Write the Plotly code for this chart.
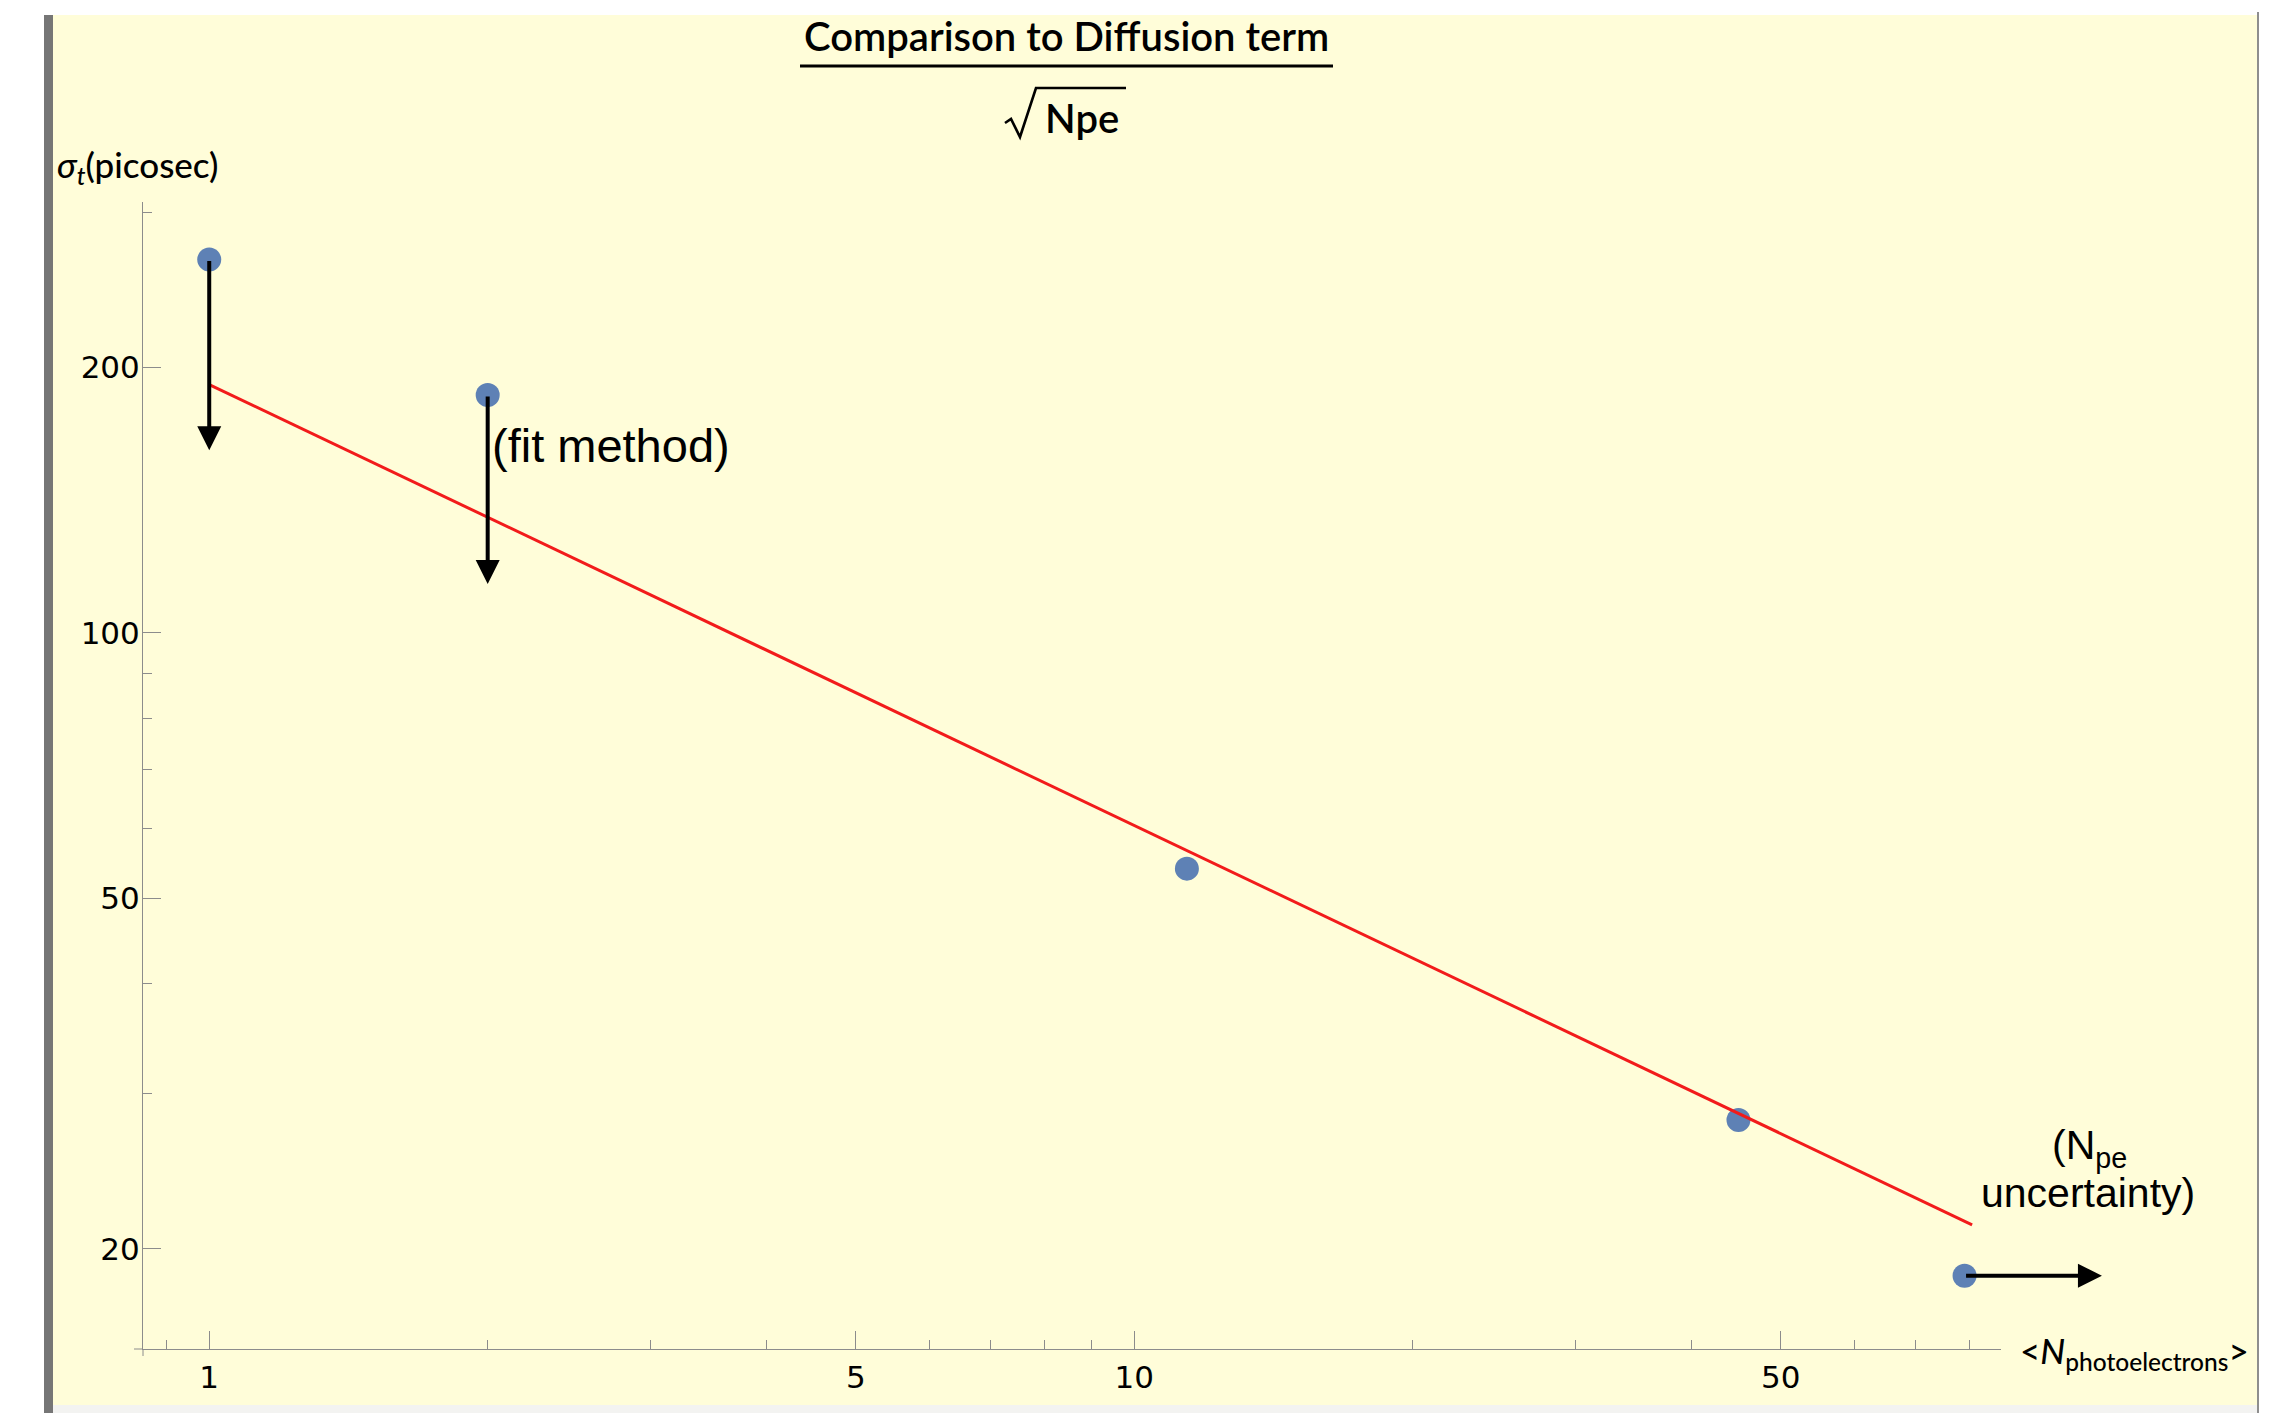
import numpy as np
import plotly.graph_objects as go

# ---------------- data ----------------
N_PE = [1.0, 2.0, 11.4, 45.0, 79.0]          # <N photoelectrons>
SIGMA_T = [265.0, 186.0, 54.0, 28.0, 18.65]  # sigma_t (picosec)
FIT_N = [1.0, 80.5]                           # diffusion-term fit ~ A/sqrt(Npe)
FIT_SIGMA = [191.2, 21.3]
DOWN_ARROW_POINTS = [0, 1]                    # points with downward arrows
DOWN_ARROW_TO = [161.0, 113.6]                # sigma values where arrows end
RIGHT_ARROW_POINT = 4
RIGHT_ARROW_TO = 111.2                        # Npe value where arrow ends

X_TICKS = [1, 5, 10, 50]
X_TICK_TEXT = ["1", "5", "10", "50"]
X_MINOR = [0.9, 2, 3, 4, 6, 7, 8, 9, 20, 30, 40, 60, 70, 80]
Y_TICKS = [20, 50, 100, 200]
Y_TICK_TEXT = ["20", "50", "100", "200"]
Y_MINOR = [30, 40, 60, 70, 80, 90, 300]
X_RANGE = [0.848, 86.5]
Y_RANGE = [15.4, 308.0]

TITLE = "Comparison to Diffusion term"
DENOM = "Npe"
Y_TITLE = "<i>σ</i><sub><i>t</i></sub>(picosec)"
X_TITLE = "&lt;<i>N</i><sub>photoelectrons</sub>&gt;"
NOTE_FIT = "(fit method)"
NOTE_NPE_1 = "(N<sub>pe</sub>"
NOTE_NPE_2 = "uncertainty)"

# ---------------- geometry ----------------
W, H = 2289, 1413
L, R, T, B = 143, 2001, 202, 1349   # plot area in pixels


def px(x):
    return (x - L) / (R - L)


def py(y):
    return (B - y) / (B - T)


YELLOW = "#FFFDD9"
AXIS_GRAY = "#8C8C8C"
BLUE = "#5E81B5"
RED = "#F21B1B"

fig = go.Figure()

fig.add_trace(go.Scatter(
    x=N_PE, y=SIGMA_T, mode="markers",
    marker=dict(size=24, color=BLUE, line=dict(width=0)),
    showlegend=False, hoverinfo="x+y"))

fig.add_trace(go.Scatter(
    x=FIT_N, y=FIT_SIGMA, mode="lines",
    line=dict(color=RED, width=3),
    showlegend=False, hoverinfo="skip"))

annotations = []
# arrows
for i, target in zip(DOWN_ARROW_POINTS, DOWN_ARROW_TO):
    annotations.append(dict(
        x=np.log10(N_PE[i]), y=np.log10(target),
        ax=np.log10(N_PE[i]), ay=np.log10(SIGMA_T[i]),
        xref="x", yref="y", axref="x", ayref="y",
        text="", showarrow=True, arrowhead=2, arrowsize=1.2,
        arrowwidth=4, arrowcolor="black", standoff=0, startstandoff=0))
annotations.append(dict(
    x=np.log10(RIGHT_ARROW_TO), y=np.log10(SIGMA_T[RIGHT_ARROW_POINT]),
    ax=np.log10(N_PE[RIGHT_ARROW_POINT]), ay=np.log10(SIGMA_T[RIGHT_ARROW_POINT]),
    xref="x", yref="y", axref="x", ayref="y",
    text="", showarrow=True, arrowhead=2, arrowsize=1.2,
    arrowwidth=4, arrowcolor="black", standoff=0, startstandoff=0))

# texts
annotations += [
    dict(text=TITLE, x=px(1066), y=py(36), xref="paper", yref="paper",
         xanchor="center", yanchor="middle", showarrow=False,
         font=dict(family="Lato", size=40, color="black", weight=600)),
    dict(text=DENOM, x=px(1082), y=py(118), xref="paper", yref="paper",
         xanchor="center", yanchor="middle", showarrow=False,
         font=dict(family="Lato", size=40, color="black", weight=600)),
    dict(text=Y_TITLE, x=px(55), y=py(166), xref="paper", yref="paper",
         xanchor="left", yanchor="middle", showarrow=False,
         font=dict(family="Lato", size=35, color="black", weight=500)),
    dict(text=X_TITLE, x=px(2018), y=py(1352), xref="paper", yref="paper",
         xanchor="left", yanchor="middle", showarrow=False,
         font=dict(family="Lato", size=35, color="black", weight=500)),
    dict(text=NOTE_FIT, x=px(490), y=py(446), xref="paper", yref="paper",
         xanchor="left", yanchor="middle", showarrow=False,
         font=dict(family="Liberation Sans", size=47, color="black")),
    dict(text=NOTE_NPE_1, x=px(2089), y=py(1148), xref="paper", yref="paper",
         xanchor="center", yanchor="middle", showarrow=False,
         font=dict(family="Liberation Sans", size=41, color="black")),
    dict(text=NOTE_NPE_2, x=px(2088), y=py(1193), xref="paper", yref="paper",
         xanchor="center", yanchor="middle", showarrow=False,
         font=dict(family="Liberation Sans", size=41, color="black")),
]

# radical sign path (pixel points -> paper)
rad_pts = [(1005, 123), (1011, 119), (1020, 137), (1036, 88), (1126, 88)]
rad_path = "M " + " L ".join(f"{px(a):.5f},{py(b):.5f}" for a, b in rad_pts)

shapes = [
    # yellow slide background
    dict(type="rect", xref="paper", yref="paper", x0=px(53), x1=px(2258),
         y0=py(1405), y1=py(15), fillcolor=YELLOW, line=dict(width=0), layer="below"),
    # bottom light strip
    dict(type="rect", xref="paper", yref="paper", x0=px(53), x1=px(2258),
         y0=py(1413), y1=py(1405), fillcolor="#F3F3F1", line=dict(width=0), layer="below"),
    # left gray bar
    dict(type="rect", xref="paper", yref="paper", x0=px(44), x1=px(53),
         y0=py(1413), y1=py(15), fillcolor="#767676", line=dict(width=0), layer="below"),
    # right thin edge
    dict(type="line", xref="paper", yref="paper", x0=px(2258), x1=px(2258),
         y0=py(1413), y1=py(12), line=dict(color="#8E8E8E", width=2), layer="below"),
    # title underline (fraction bar)
    dict(type="line", xref="paper", yref="paper", x0=px(800), x1=px(1333),
         y0=py(66), y1=py(66), line=dict(color="black", width=3)),
    # radical
    dict(type="path", xref="paper", yref="paper", path=rad_path,
         line=dict(color="black", width=2.6)),
    # axis overhangs (crossing axes)
    dict(type="line", xref="paper", yref="paper", x0=px(134), x1=px(143),
         y0=py(B), y1=py(B), line=dict(color=AXIS_GRAY, width=1)),
    dict(type="line", xref="paper", yref="paper", x0=px(L), x1=px(L),
         y0=py(B), y1=py(1356), line=dict(color=AXIS_GRAY, width=1)),
]

tick_font = dict(family="DejaVu Sans", size=31, color="black")

fig.update_layout(
    width=W, height=H,
    margin=dict(l=L, r=W - R, t=T, b=H - B, pad=0, autoexpand=False),
    paper_bgcolor="white", plot_bgcolor="rgba(0,0,0,0)",
    showlegend=False,
    annotations=annotations, shapes=shapes,
    xaxis=dict(type="log", range=[np.log10(X_RANGE[0]), np.log10(X_RANGE[1])],
               automargin=False,
               showgrid=False, zeroline=False, showline=True,
               linecolor=AXIS_GRAY, linewidth=1,
               tickmode="array", tickvals=X_TICKS, ticktext=X_TICK_TEXT,
               ticks="inside", ticklen=18, tickwidth=1, tickcolor=AXIS_GRAY,
               tickfont=tick_font, ticklabelstandoff=1,
               minor=dict(tickmode="array", tickvals=X_MINOR, ticks="inside",
                          ticklen=9, tickwidth=1, tickcolor=AXIS_GRAY, showgrid=False)),
    yaxis=dict(type="log", range=[np.log10(Y_RANGE[0]), np.log10(Y_RANGE[1])],
               automargin=False,
               showgrid=False, zeroline=False, showline=True,
               linecolor=AXIS_GRAY, linewidth=1,
               tickmode="array", tickvals=Y_TICKS, ticktext=Y_TICK_TEXT,
               ticks="inside", ticklen=18, tickwidth=1, tickcolor=AXIS_GRAY,
               tickfont=tick_font, ticklabelstandoff=-4,
               minor=dict(tickmode="array", tickvals=Y_MINOR, ticks="inside",
                          ticklen=9, tickwidth=1, tickcolor=AXIS_GRAY, showgrid=False)),
)

fig.write_html("out.html")
